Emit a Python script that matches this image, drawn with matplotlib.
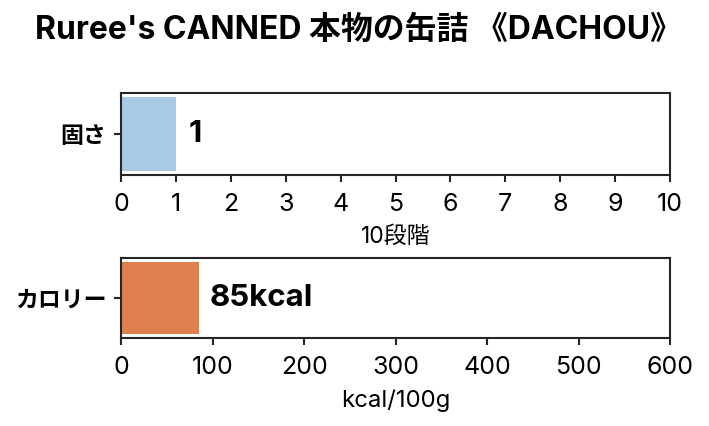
import matplotlib
matplotlib.use("Agg")
import matplotlib.pyplot as plt

# ================= Daten =================
title = "Ruree's CANNED 本物の缶詰 《DACHOU》"

hard_label = ["固さ"]
hard_value = [1]
hard_ticks = [0, 1, 2, 3, 4, 5, 6, 7, 8, 9, 10]
hard_xlabel = "10段階"

cal_label = ["カロリー"]
cal_value = [85]
cal_ticks = [0, 100, 200, 300, 400, 500, 600]
cal_xlabel = "kcal/100g"

plt.rcParams['font.family'] = ['Inter', 'Noto Sans CJK JP', 'DejaVu Sans']
plt.rcParams['axes.edgecolor'] = "#262626"
plt.rcParams['axes.linewidth'] = 1.0
plt.rcParams['xtick.color'] = "#262626"
plt.rcParams['ytick.color'] = "#262626"
plt.rcParams['xtick.major.width'] = 1.0
plt.rcParams['ytick.major.width'] = 1.0

fig = plt.figure(figsize=(709 / 150, 426 / 150), dpi=150)

ax1 = fig.add_axes([0.1707, 0.589, 0.7743, 0.1927])
ax2 = fig.add_axes([0.1707, 0.2066, 0.7743, 0.1878])

# oberer Plot: Haerte
ax1.barh(hard_label, hard_value, color="#a7cbe7")
ax1.set_xlim(hard_ticks[0], hard_ticks[-1])
ax1.set_xticks(hard_ticks)
ax1.set_xlabel(hard_xlabel, fontsize=11)
for lab, v in zip(hard_label, hard_value):
    ax1.annotate(f"{v}", (v, lab), xytext=(6, 0), textcoords="offset points",
                 va="center", ha="left", fontsize=15, fontweight="bold")

# unterer Plot: Kalorien
ax2.barh(cal_label, cal_value, color="#e07f4e")
ax2.set_xlim(cal_ticks[0], cal_ticks[-1])
ax2.set_xticks(cal_ticks)
ax2.set_xlabel(cal_xlabel, fontsize=11.5)
for lab, v in zip(cal_label, cal_value):
    ax2.annotate(f"{v}kcal", (v, lab), xytext=(5, 0), textcoords="offset points",
                 va="center", ha="left", fontsize=15, fontweight="bold")

for ax in (ax1, ax2):
    ax.tick_params(axis="x", labelsize=12, pad=5, labelcolor="black")
    ax.tick_params(axis="y", labelsize=11, labelcolor="black")
    for t in ax.get_yticklabels():
        t.set_fontweight("bold")
    ax.xaxis.labelpad = 5

fig.suptitle(title, x=0.505, y=0.965, fontsize=15.3, fontweight="bold")

fig.savefig("out.png", dpi=150)
plt.close()
